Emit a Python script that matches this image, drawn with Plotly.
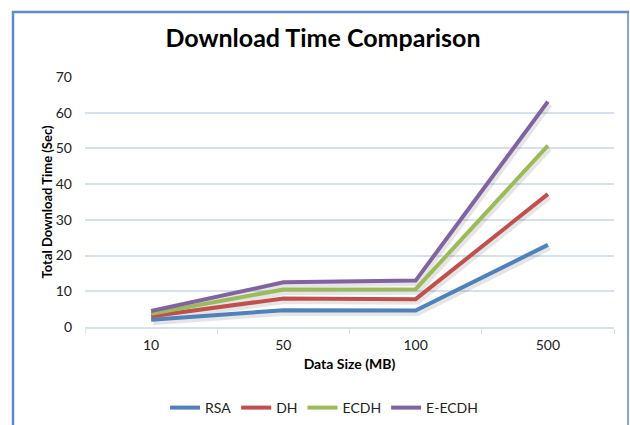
import plotly.graph_objects as go

categories = ["10", "50", "100", "500"]
series_names = ["RSA", "DH", "ECDH", "E-ECDH"]
rsa = [2.0, 4.7, 4.6, 23.0]
dh = [3.0, 8.0, 7.8, 37.2]
ecdh = [3.7, 10.5, 10.6, 50.8]
eecdh = [4.5, 12.5, 13.0, 63.1]
values = [rsa, dh, ecdh, eecdh]
colors = ["#4F81BD", "#C0504D", "#9BBB59", "#8064A2"]
y_ticks = [0, 10, 20, 30, 40, 50, 60, 70]

FONT = "Lato, 'Open Sans', sans-serif"
W, H = 630, 425
ml, mr, mt, mb = 85, 16, 77, 98
pw, ph = W - ml - mr, H - mt - mb

fig = go.Figure()

# soft shadow traces on base (hidden, slightly shifted) axes
dx = 2.0 * 4.0 / pw
dy = 3.0 * 70.0 / ph
for name, vals in zip(series_names, values):
    fig.add_trace(go.Scatter(x=categories, y=vals, mode="lines", xaxis="x", yaxis="y",
                             line=dict(color="rgba(0,0,0,0.10)", width=5),
                             showlegend=False, hoverinfo="skip"))

for name, vals, c in zip(series_names, values, colors):
    fig.add_trace(go.Scatter(x=categories, y=vals, mode="lines", name=name,
                             xaxis="x2", yaxis="y2",
                             line=dict(color=c, width=4)))

def px_x(p):
    return (p - ml) / pw

def px_y(p):
    return (mt + ph - p) / ph

grid_c = "#D6E1F0"
fig.update_layout(
    width=W, height=H,
    margin=dict(l=ml, r=mr, t=mt, b=mb, autoexpand=False),
    paper_bgcolor="white", plot_bgcolor="white",
    font=dict(family=FONT, size=14, color="#222"),
    title=dict(text="<b>Download Time Comparison</b>", x=323 / W, xanchor="center",
               y=1 - 38 / H, yanchor="middle", font=dict(size=25, color="black")),
    xaxis=dict(type="category", range=[-0.5 - dx, 3.5 - dx], visible=False, automargin=False),
    yaxis=dict(range=[0 + dy, 70 + dy], visible=False, automargin=False),
    xaxis2=dict(type="category", overlaying="x", anchor="y2", range=[-0.5, 3.5], automargin=False,
                showgrid=False, showline=True, linecolor=grid_c, linewidth=1.5,
                ticks="outside", tickson="boundaries", ticklen=5, tickcolor=grid_c,
                ticklabelstandoff=4,
                tickfont=dict(size=14, color="#222"),
                title=dict(text="<b>Data Size (MB)</b>", font=dict(size=14, color="black"), standoff=8)),
    yaxis2=dict(overlaying="y", anchor="x2", range=[0, 70], tickvals=y_ticks, automargin=False,
                showgrid=True, gridcolor=grid_c, gridwidth=1.5, zeroline=False,
                showline=False, ticks="", tickfont=dict(size=14, color="#222"),
                ticklabelstandoff=12,
                title=dict(text="<b>Total Download Time (Sec)</b>", font=dict(size=13, color="black"), standoff=0)),
    legend=dict(orientation="h", x=px_x(324), xanchor="center", y=px_y(408), yanchor="middle",
                font=dict(size=14, color="#222"), itemwidth=30),
    showlegend=True,
)

border = "#5B8BC9"
fig.add_shape(type="line", xref="paper", yref="paper", x0=px_x(12), x1=px_x(629), y0=px_y(12), y1=px_y(12),
              line=dict(color=border, width=2.5))
fig.add_shape(type="line", xref="paper", yref="paper", x0=px_x(13), x1=px_x(13), y0=px_y(11), y1=px_y(430),
              line=dict(color=border, width=2.5))
fig.add_shape(type="line", xref="paper", yref="paper", x0=px_x(628), x1=px_x(628), y0=px_y(11), y1=px_y(430),
              line=dict(color=border, width=1.5))

fig.write_html("out.html")
